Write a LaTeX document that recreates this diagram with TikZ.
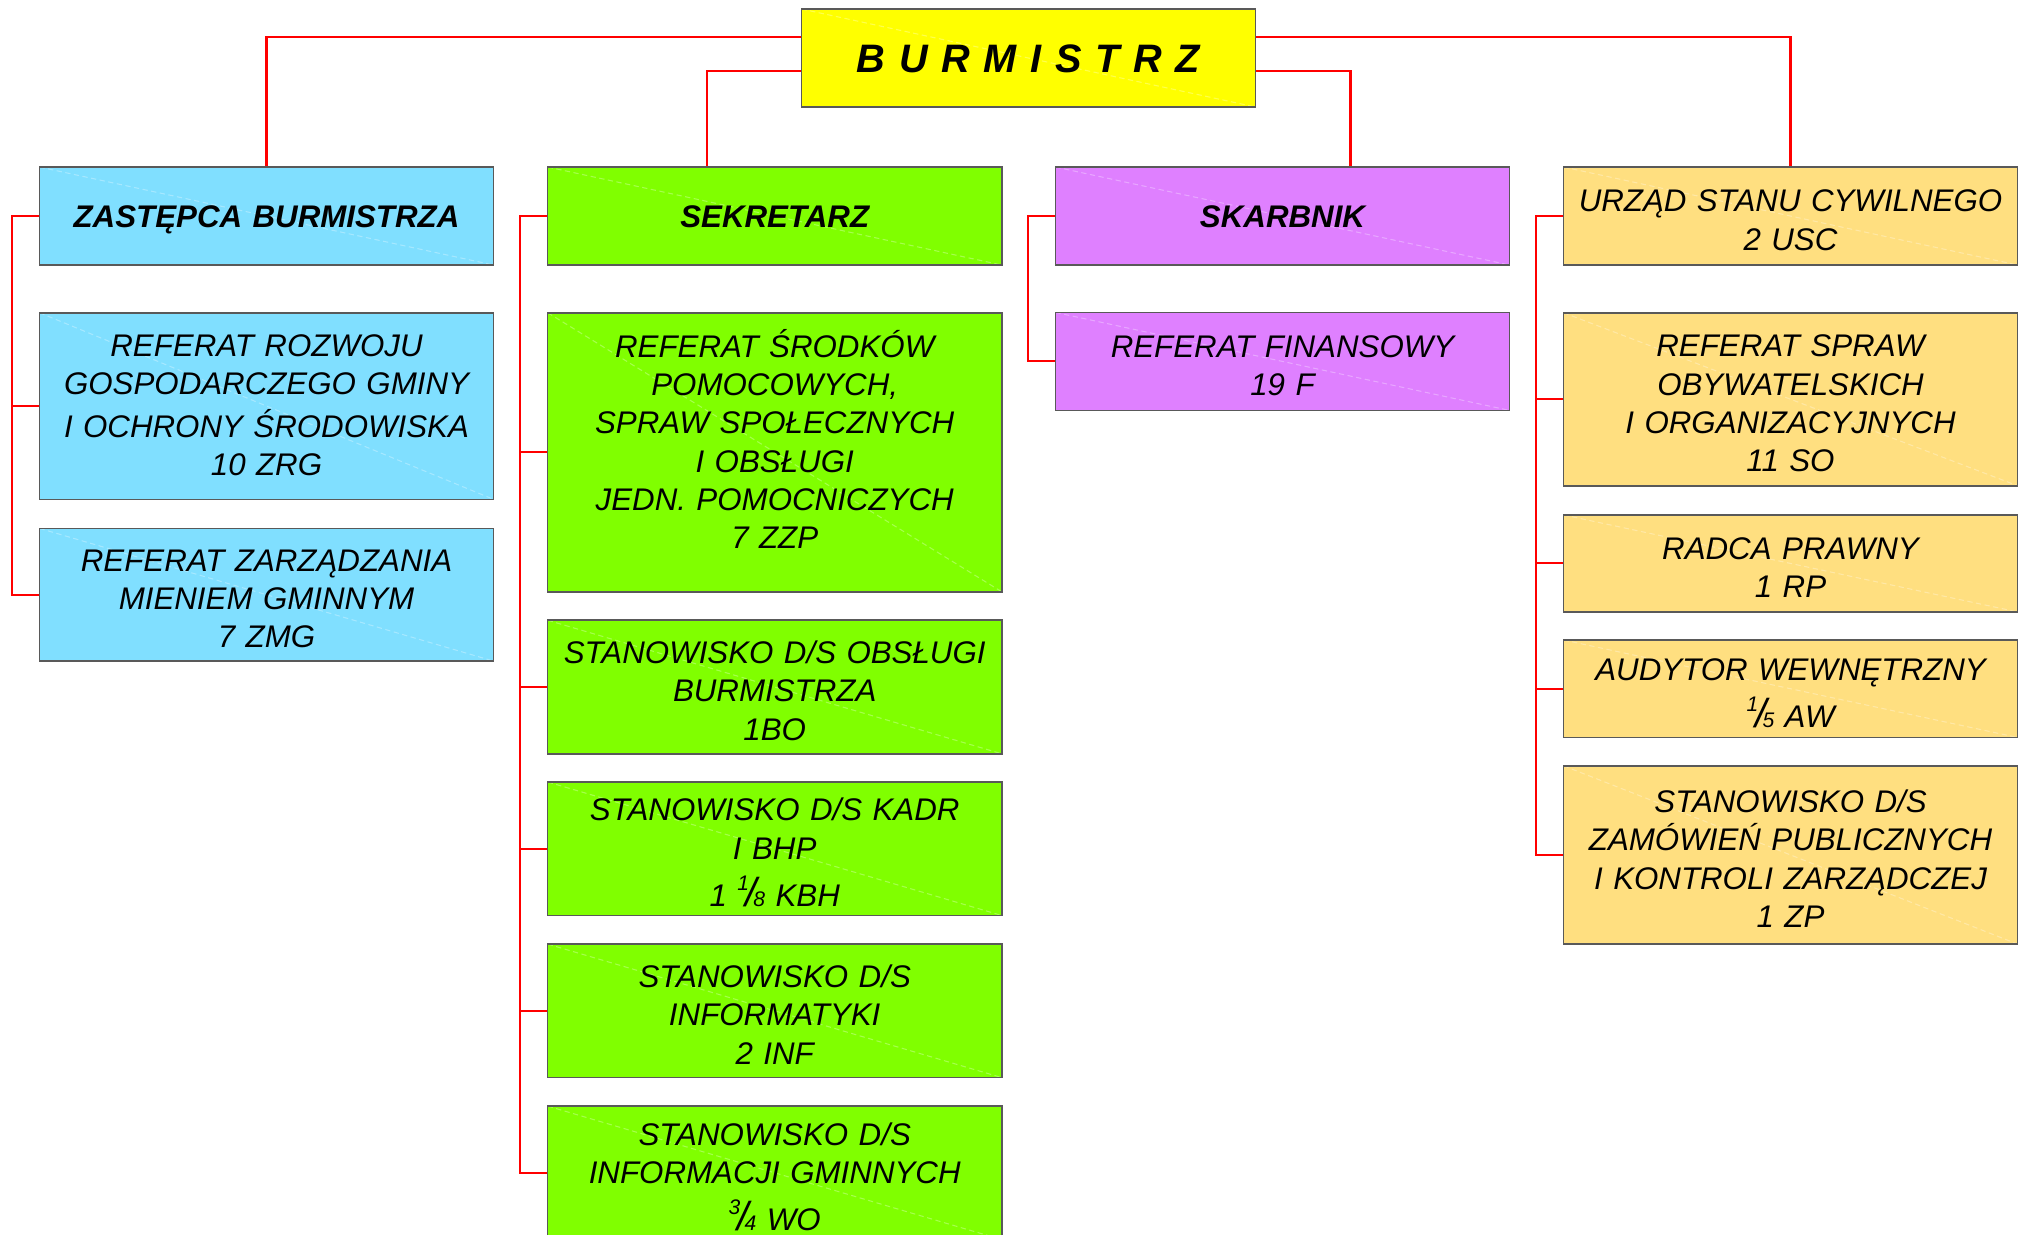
\documentclass[tikz,border=0pt]{standalone}
\usepackage{fontspec}
\setmainfont{Liberation Sans}
\definecolor{zolty}{HTML}{FFFF00}
\definecolor{niebieski}{HTML}{80DFFF}
\definecolor{zielony}{HTML}{80FF00}
\definecolor{fioletowy}{HTML}{DF80FF}
\definecolor{pomaranczowy}{HTML}{FFDF80}
\definecolor{ramka}{HTML}{595959}
\newcommand{\ulamek}[2]{\raisebox{0.95ex}{\fontsize{6}{6}\selectfont #1}\kern-0.1em{\fontsize{11.5}{11.5}\selectfont /}\kern-0.12em{\fontsize{6}{6}\selectfont #2}}
\begin{document}
\begin{tikzpicture}[
		box/.style={draw=ramka, line width=0.45pt, minimum width=4.54cm, text width=4.5cm, align=center, inner sep=0pt,
			execute at begin node={\rule{0pt}{8.6pt}},
			font=\fontsize{8.9}{10.9}\selectfont\itshape,
			path picture={\draw[white, opacity=0.3, line width=0.3pt, dash pattern=on 1.5pt off 1pt] (path picture bounding box.north west) -- (path picture bounding box.south east);}},
		head/.style={box, font=\fontsize{8.9}{10.9}\selectfont\bfseries\itshape, execute at begin node={\rule[-2pt]{0pt}{10.6pt}}},
		link/.style={draw=red, line width=0.6pt}
		]
	\useasboundingbox (0,0) rectangle (20.24,-12.34);
	\clip (0,0) rectangle (20.24,-12.34);
	\node [box, fill=zolty, minimum height=0.98cm, font=\fontsize{11.3}{14}\selectfont\bfseries\itshape] (bur) at (10.285,-0.58) {\spaceskip=3.9pt B U R M I S T R Z};
	\node [head, fill=niebieski, minimum height=0.98cm] (zas) at (2.665,-2.16) {ZASTĘPCA BURMISTRZA};
	\node [box, fill=niebieski, minimum height=1.866cm] (zas1) at (2.665,-4.06) {REFERAT ROZWOJU\\ GOSPODARCZEGO GMINY\\[1.2pt] I OCHRONY ŚRODOWISKA\\ 10 ZRG\\[-8pt]\mbox{}};
	\node [box, fill=niebieski, minimum height=1.327cm] (zas2) at (2.665,-5.947) {REFERAT ZARZĄDZANIA\\ MIENIEM GMINNYM\\ 7 ZMG};
	\node [head, fill=zielony, minimum height=0.98cm] (sek) at (7.747,-2.16) {SEKRETARZ};
	\node [box, fill=zielony, minimum height=2.79cm] (sek1) at (7.747,-4.522) {REFERAT ŚRODKÓW\\ POMOCOWYCH,\\ SPRAW SPOŁECZNYCH\\ I OBSŁUGI\\ JEDN. POMOCNICZYCH\\ 7 ZZP\\[-2.8pt]\mbox{}};
	\node [box, fill=zielony, minimum height=1.335cm] (sek2) at (7.747,-6.87) {STANOWISKO D/S OBSŁUGI\\ BURMISTRZA\\ 1BO};
	\node [box, fill=zielony, minimum height=1.335cm] (sek3) at (7.747,-8.487) {STANOWISKO D/S KADR\\ I BHP\\[2.5pt] 1 \ulamek{1}{8} KBH};
	\node [box, fill=zielony, minimum height=1.335cm] (sek4) at (7.747,-10.108) {STANOWISKO D/S\\ INFORMATYKI\\ 2 INF};
	\node [box, fill=zielony, minimum height=1.335cm] (sek5) at (7.747,-11.728) {STANOWISKO D/S\\ INFORMACJI GMINNYCH\\[2.5pt] \ulamek{3}{4} WO};
	\node [head, fill=fioletowy, minimum height=0.98cm] (ska) at (12.825,-2.16) {SKARBNIK};
	\node [box, fill=fioletowy, minimum height=0.98cm] (ska1) at (12.825,-3.614) {REFERAT FINANSOWY\\ 19 F};
	\node [box, fill=pomaranczowy, minimum height=0.98cm] (usc) at (17.905,-2.16) {URZĄD STANU CYWILNEGO\\ 2 USC};
	\node [box, fill=pomaranczowy, minimum height=1.73cm] (usc1) at (17.905,-3.992) {REFERAT SPRAW\\ OBYWATELSKICH\\ I ORGANIZACYJNYCH\\ 11 SO};
	\node [box, fill=pomaranczowy, minimum height=0.97cm] (usc2) at (17.905,-5.634) {RADCA PRAWNY\\ 1 RP};
	\node [box, fill=pomaranczowy, minimum height=0.975cm] (usc3) at (17.905,-6.887) {AUDYTOR WEWNĘTRZNY\\[2.5pt] \ulamek{1}{5} AW};
	\node [box, fill=pomaranczowy, minimum height=1.783cm] (usc4) at (17.905,-8.549) {STANOWISKO D/S\\ ZAMÓWIEŃ PUBLICZNYCH\\ I KONTROLI ZARZĄDCZEJ\\ 1 ZP};
	\draw [link] ([yshift=0.213cm]bur.west) -| (zas.north);
	\draw [link] ([yshift=-0.127cm]bur.west) -| ([xshift=-0.68cm]sek.north);
	\draw [link] ([yshift=-0.127cm]bur.east) -| ([xshift=0.68cm]ska.north);
	\draw [link] ([yshift=0.213cm]bur.east) -| (usc.north);
	\foreach \a/\b in {zas/zas1, zas/zas2, sek/sek1, sek/sek2, sek/sek3, sek/sek4, sek/sek5, ska/ska1, usc/usc1, usc/usc2, usc/usc3, usc/usc4}
		\draw [link] (\a.west) -- ++(-0.27,0) |- (\b.west);
\end{tikzpicture}
\end{document}
